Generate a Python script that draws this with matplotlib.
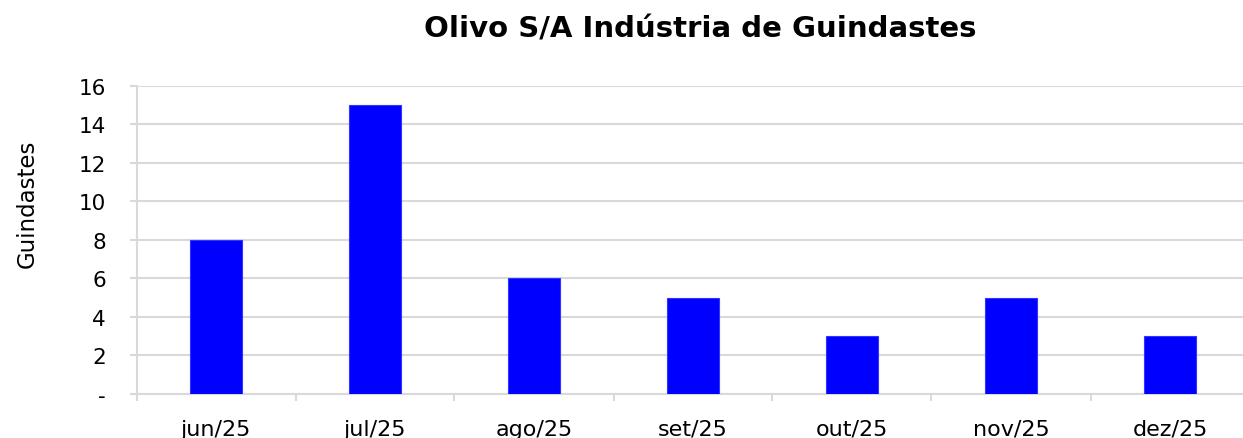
import matplotlib.pyplot as plt
import numpy as np

meses = ["jun/25", "jul/25", "ago/25", "set/25", "out/25", "nov/25", "dez/25"]
guindastes = [8, 15, 6, 5, 3, 5, 3]
yticks = [0, 2, 4, 6, 8, 10, 12, 14, 16]
ytick_labels = ["-", "2", "4", "6", "8", "10", "12", "14", "16"]

grid_color = "#d9d9d9"

fig = plt.figure(figsize=(12.43, 4.39), dpi=100)
ax = fig.add_axes([136.5 / 1243, 1 - 395 / 439, 1113 / 1243, 308.3 / 439])

x = np.arange(len(meses))
ax.bar(x, guindastes, width=0.33, color="#0000ff", edgecolor="#3333ff",
       linewidth=0.8, zorder=3)

ax.set_xlim(-0.5, len(meses) - 0.5)
ax.set_ylim(0, 16)
ax.set_yticks(yticks)
ax.set_yticklabels(ytick_labels)
ax.yaxis.grid(True, color=grid_color, linewidth=1.5, zorder=0)

# category labels centred, tick marks between categories
ax.set_xticks(x)
ax.set_xticklabels(meses)
ax.set_xticks(np.arange(len(meses) + 1) - 0.5, minor=True)
ax.tick_params(axis="x", which="major", length=0, pad=18, labelsize=16)
ax.tick_params(axis="x", which="minor", length=5, width=1.5, color=grid_color)
ax.tick_params(axis="y", length=5, width=1.5, color=grid_color, labelsize=15.5, pad=17)

for side in ["top", "right"]:
    ax.spines[side].set_visible(False)
for side in ["left", "bottom"]:
    ax.spines[side].set_color(grid_color)
    ax.spines[side].set_linewidth(1.5)

fig.text(27 / 1243, 1 - 204 / 439, "Guindastes", rotation=90, ha="center",
         va="center", fontsize=16.5)
fig.text(700 / 1243, 1 - 30 / 439, "Olivo S/A Indústria de Guindastes", ha="center",
         va="center", fontsize=21, fontweight="bold")

fig.savefig("out.png", dpi=100)
